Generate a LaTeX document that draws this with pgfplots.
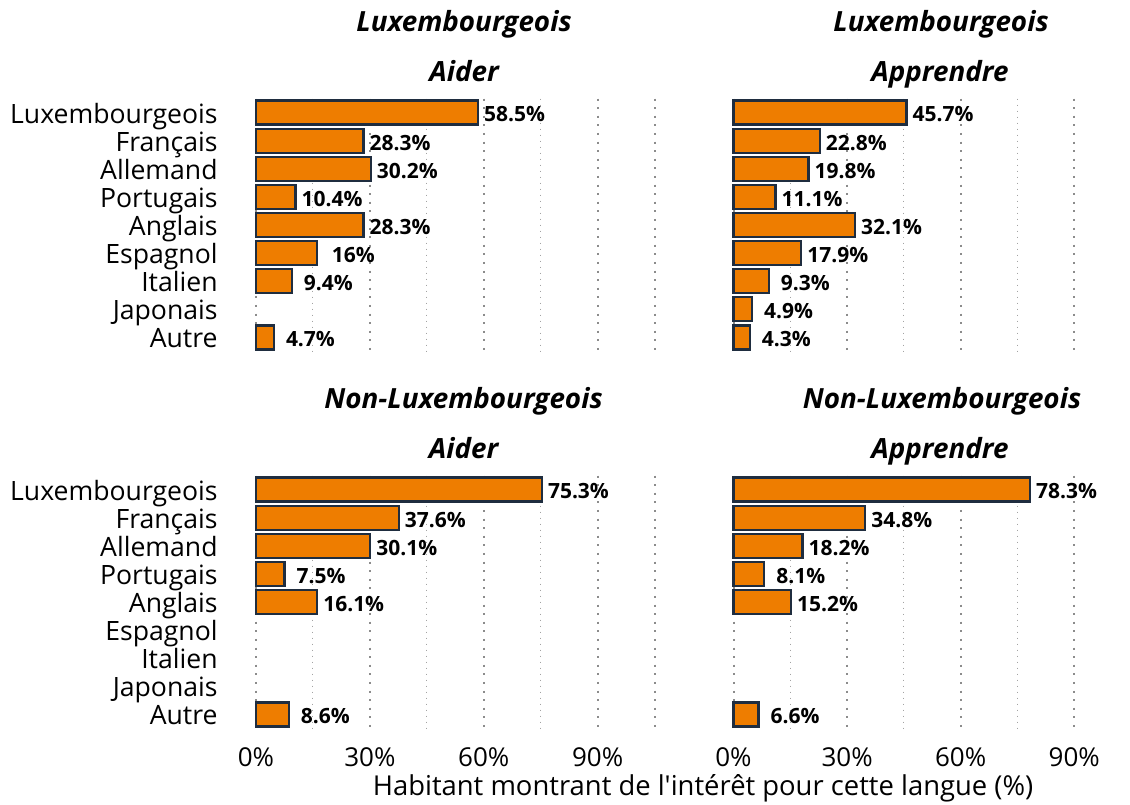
\documentclass[border=0pt]{standalone}
\usepackage{fontspec}
\setmainfont{Open Sans}
\usepackage{pgfplots}
\pgfplotsset{compat=1.18}
\definecolor{barorange}{HTML}{EE7D00}
\definecolor{baredge}{HTML}{1F2D3F}
\definecolor{gridgray}{HTML}{8C8C8C}

\pgfplotsset{
  panel/.style={
    xbar, scale only axis, height=126.5pt,
    xmin=0, xmax=105, ymin=-0.5, ymax=8.5, y dir=reverse,
    axis line style={draw=none}, major tick length=0pt, minor tick length=0pt,
    xtick={0,30,60,90}, minor xtick={15,45,75},
    extra x ticks={105}, extra x tick labels={}, extra x tick style={grid=major},
    xmajorgrids, xminorgrids,
    major grid style={gridgray, line width=1pt, dash pattern=on 1pt off 3.3pt},
    minor grid style={gridgray!80, line width=0.5pt, dash pattern=on 0.5pt off 2.5pt},
    ytick={0,...,8}, xticklabels={}, yticklabels={},
    bar width=12pt, point meta=x,
    nodes near coords={\pgfmathprintnumber[fixed,precision=1,assume math mode=true]{\pgfplotspointmeta}\%},
    every node near coord/.append style={anchor=base, xshift=18.3pt, yshift=-4.7pt,
      font=\fontsize{10.5}{12}\selectfont\bfseries, text=black},
    clip=false, anchor=north west,
  },
  bars/.style={fill=barorange, draw=baredge, line width=1.1pt},
  cats/.style={
    yticklabels={Luxembourgeois,Français,Allemand,Portugais,Anglais,Espagnol,Italien,Japonais,Autre},
    yticklabel style={anchor=base east, inner sep=0pt, xshift=-19pt, yshift=-5.25pt,
      font=\fontsize{13.3}{15}\selectfont}},
  pct/.style={
    xticklabel={\pgfmathprintnumber[assume math mode=true]{\tick}\%},
    xticklabel style={anchor=base, yshift=-19.2pt, font=\fontsize{13}{15}\selectfont}},
}

\begin{document}
\begin{tikzpicture}
\useasboundingbox (0,0) rectangle (565pt,-402pt);

% Luxembourgeois - Aider
\begin{axis}[panel, cats, at={(128pt,-49.25pt)}, width=199.3pt]
\addplot[bars] coordinates {(58.5,0) (28.3,1) (30.2,2) (10.4,3) (28.3,4) (16,5) (9.4,6) (4.7,8)};
\end{axis}

% Luxembourgeois - Apprendre
\begin{axis}[panel, at={(366.75pt,-49.25pt)}, width=198.75pt]
\addplot[bars] coordinates {(45.7,0) (22.8,1) (19.8,2) (11.1,3) (32.1,4) (17.9,5) (9.3,6) (4.9,7) (4.3,8)};
\end{axis}

% Non-Luxembourgeois - Aider
\begin{axis}[panel, cats, pct, at={(128pt,-237.75pt)}, width=199.3pt]
\addplot[bars] coordinates {(75.3,0) (37.6,1) (30.1,2) (7.5,3) (16.1,4) (8.6,8)};
\end{axis}

% Non-Luxembourgeois - Apprendre
\begin{axis}[panel, pct, at={(366.75pt,-237.75pt)}, width=198.75pt]
\addplot[bars] coordinates {(78.3,0) (34.8,1) (18.2,2) (8.1,3) (15.2,4) (6.6,8)};
\end{axis}

\begin{scope}[every node/.style={anchor=base, font=\fontsize{13.9}{16}\selectfont\bfseries\itshape}]
\node at (232pt,-15.85pt) {Luxembourgeois};
\node at (232pt,-40.85pt) {Aider};
\node at (470.5pt,-15.85pt) {Luxembourgeois};
\node at (470pt,-40.85pt) {Apprendre};
\node at (231.75pt,-204.35pt) {Non-Luxembourgeois};
\node at (231.75pt,-229.35pt) {Aider};
\node at (471pt,-204.35pt) {Non-Luxembourgeois};
\node at (470pt,-229.35pt) {Apprendre};
\end{scope}
\node[anchor=base, font=\fontsize{13.7}{15}\selectfont] at (351.5pt,-397.5pt)
  {Habitant montrant de l\textquotesingle intérêt pour cette langue (\%)};
\end{tikzpicture}
\end{document}
